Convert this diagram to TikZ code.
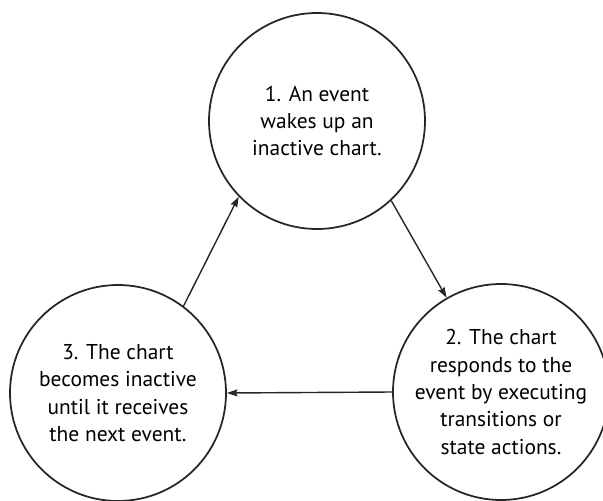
\documentclass[tikz,border=0pt]{standalone}
\usepackage{fontspec}
\setmainfont{PT Sans}
\usetikzlibrary{arrows.meta}

\begin{document}
\begin{tikzpicture}[
 phase/.style={circle,draw=black!85,line width=1pt,minimum size=4.32cm,
               inner sep=0pt,align=center,text=black,
               font=\fontsize{12.2}{15.6}\selectfont},
 arrow/.style={-{Stealth[length=6pt,width=4pt,inset=0.8pt]},line width=0.8pt,draw=black!85}
]
\useasboundingbox (0,0) rectangle (12.06,-10.02);
\node[phase] (wake) at (6.34,-2.42) {1. An event\\wakes up an\\inactive chart.};
\node[phase] (respond) at (10.02,-7.84) {2. The chart\\responds to the\\event by executing\\transitions or\\state actions.};
\node[phase] (sleep) at (2.36,-7.86) {3. The chart\\becomes inactive\\until it receives\\the next event.};
\draw[arrow] (wake.313) -- (respond.120);
\draw[arrow] (respond.west) -- (sleep.east);
\draw[arrow] (sleep.53) -- (wake.224);
\end{tikzpicture}
\end{document}
